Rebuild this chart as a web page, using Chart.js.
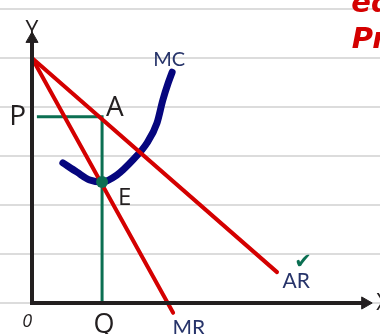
<!DOCTYPE html>
<html>
<head>
<meta charset="utf-8">
<script src="https://cdn.jsdelivr.net/npm/chart.js@4.4.1/dist/chart.umd.min.js"></script>
<style>
html,body{margin:0;padding:0;background:#fff;}
#wrap{width:380px;height:334px;}
</style>
</head>
<body>
<div id="wrap"><canvas id="c" width="380" height="334"></canvas></div>
<script>
// ---- data (economic units: quantity on x, price/cost on y) ----
const arLine = [{x:0, y:5.0}, {x:5.0, y:0.63}];          // average revenue (demand)
const mrLine = [{x:0, y:5.0}, {x:2.88, y:-0.2}];          // marginal revenue
const mcX = [0.63, 0.92, 1.18, 1.43, 1.73, 2.06, 2.35, 2.55, 2.67, 2.78, 2.86];
const mcY = [2.86, 2.67, 2.51, 2.47, 2.61, 2.92, 3.27, 3.67, 4.14, 4.49, 4.71];
const qEq = 1.43;      // equilibrium quantity Q
const pEq = 3.80;      // price P (point A on AR)
const eY = 2.47;       // point E (MC = MR)
const ruledLines = [0, 1, 2, 3, 4, 5, 6];
const yAxisTop = 5.39;
const xAxisEnd = 6.8;

const mcLine = mcX.map((x, i) => ({x, y: mcY[i]}));

const RED = '#d40000', NAVY = '#06067e', GREEN = '#0b6f52', INK = '#231f20', LABEL = '#27346a';

const labels = [
  {t:'Y', x:0, y:5.56, font:'23px "Open Sans"', c:INK},
  {t:'X', x:7.16, y:0.0, font:'23px "Open Sans"', c:INK},
  {t:'P', x:-0.29, y:3.80, font:'28px "Open Sans"', c:INK},
  {t:'A', x:1.69, y:3.97, font:'28px "Open Sans"', c:INK},
  {t:'E', x:1.89, y:2.14, font:'24px "Open Sans"', c:INK},
  {t:'Q', x:1.47, y:-0.45, font:'27px "Open Sans"', c:INK},
  {t:'0', x:-0.10, y:-0.39, font:'italic 18px "Open Sans"', c:INK},
  {t:'MC', x:2.80, y:4.96, font:'20px Lato', c:LABEL},
  {t:'AR', x:5.39, y:0.44, font:'21px Lato', c:LABEL},
  {t:'MR', x:3.20, y:-0.52, font:'21px Lato', c:LABEL},
  {t:'\u2714', x:5.53, y:0.83, font:'21px "DejaVu Sans"', c:GREEN},
  {t:'eq', x:6.93, y:6.1, font:'italic bold 29px "DejaVu Sans"', c:RED},
  {t:'Pr', x:6.88, y:5.35, font:'italic bold 29px "DejaVu Sans"', c:RED}
];

const textPlugin = {
  id: 'texts',
  afterDatasetsDraw(chart) {
    const {ctx, scales:{x, y}} = chart;
    ctx.save();
    ctx.textAlign = 'center';
    ctx.textBaseline = 'middle';
    labels.forEach(l => {
      ctx.font = l.font;
      ctx.fillStyle = l.c;
      ctx.fillText(l.t, x.getPixelForValue(l.x), y.getPixelForValue(l.y));
    });
    ctx.restore();
  }
};

const U = 49;
new Chart(document.getElementById('c'), {
  type: 'scatter',
  data: {
    datasets: [
      {label:'E', data:[{x:qEq, y:eY}], pointRadius:6, pointBackgroundColor:GREEN, pointBorderWidth:0, showLine:false, order:0},
      {label:'yArrow', data:[{x:0, y:yAxisTop}], pointStyle:'triangle', pointRadius:7, pointBackgroundColor:INK, pointBorderColor:INK, pointBorderWidth:1, showLine:false, order:1},
      {label:'xArrow', data:[{x:xAxisEnd, y:0}], pointStyle:'triangle', rotation:90, pointRadius:7, pointBackgroundColor:INK, pointBorderColor:INK, pointBorderWidth:1, showLine:false, order:1},
      {label:'axes', data:[{x:0, y:yAxisTop}, {x:0, y:0}, {x:xAxisEnd, y:0}], showLine:true, borderColor:INK, borderWidth:4, pointRadius:0, tension:0, borderJoinStyle:'miter', order:1},
      {label:'AR', data:arLine, showLine:true, borderColor:RED, borderWidth:4, pointRadius:0, borderCapStyle:'round', order:2},
      {label:'MR', data:mrLine, showLine:true, borderColor:RED, borderWidth:4, pointRadius:0, borderCapStyle:'round', order:2},
      {label:'Pline', data:[{x:0.1, y:pEq}, {x:qEq, y:pEq}, {x:qEq, y:0}], showLine:true, borderColor:GREEN, borderWidth:3, pointRadius:0, tension:0, order:3},
      {label:'MC', data:mcLine, showLine:true, borderColor:NAVY, borderWidth:7, pointRadius:0, cubicInterpolationMode:'monotone', borderCapStyle:'round', order:4}
    ]
  },
  options: {
    responsive:false,
    animation:false,
    events:[],
    layout:{padding:0, autoPadding:false},
    plugins:{legend:{display:false}, tooltip:{enabled:false}},
    scales:{
      x:{type:'linear', min:-32/U, max:348/U, display:false},
      y:{type:'linear', min:-31/U, max:303/U, display:true,
         border:{display:false},
         ticks:{display:false},
         afterBuildTicks:(s)=>{ s.ticks = ruledLines.map(v=>({value:v})); },
         grid:{color:'#dcdcdc', lineWidth:2, drawTicks:false}}
    }
  },
  plugins:[textPlugin]
});
</script>
</body>
</html>
